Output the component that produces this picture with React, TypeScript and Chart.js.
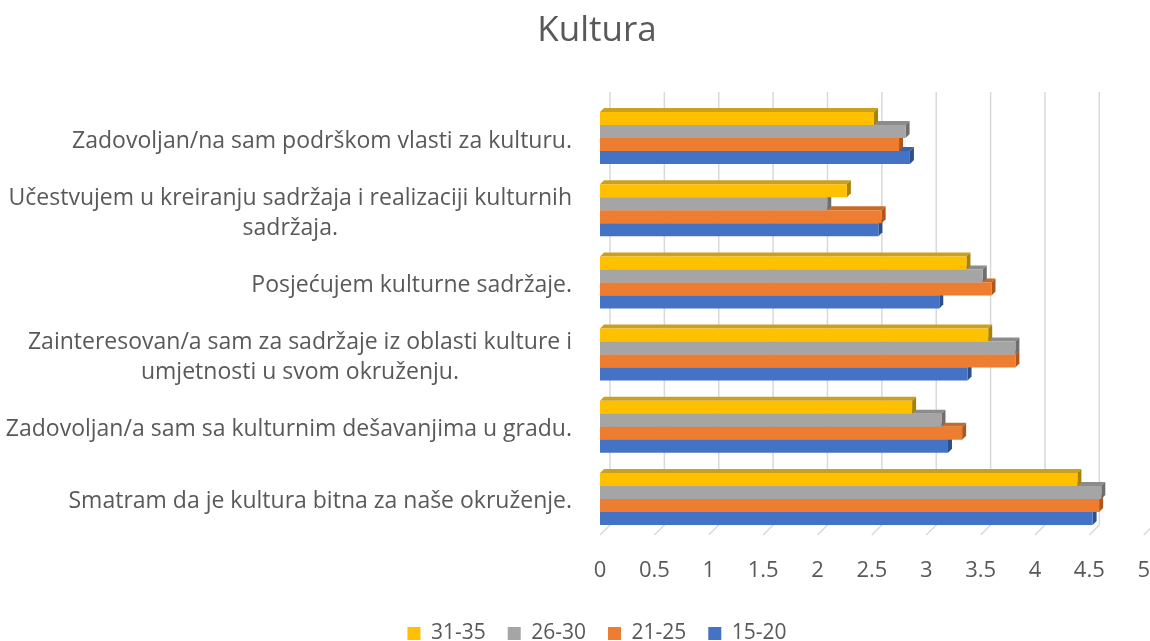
import React, { useEffect, useRef } from "react";
import { Chart, registerables } from "chart.js";

Chart.register(...registerables);

const FONT = "'Open Sans'";
const TEXT_COLOR = "#595959";

const categories: (string | string[])[] = [
  "Zadovoljan/na sam podrškom vlasti za kulturu.",
  ["Učestvujem u kreiranju sadržaja i realizaciji kulturnih", "sadržaja."],
  "Posjećujem kulturne sadržaje.",
  ["Zainteresovan/a sam za sadržaje iz oblasti kulture i", "umjetnosti u svom okruženju."],
  "Zadovoljan/a sam sa kulturnim dešavanjima u gradu.",
  "Smatram da je kultura bitna za naše okruženje.",
];

const seriesNames = ["31-35", "26-30", "21-25", "15-20"];
const values31_35 = [2.52, 2.27, 3.37, 3.57, 2.87, 4.39];
const values26_30 = [2.81, 2.09, 3.52, 3.82, 3.14, 4.61];
const values21_25 = [2.75, 2.59, 3.6, 3.82, 3.33, 4.59];
const values15_20 = [2.85, 2.56, 3.12, 3.38, 3.2, 4.53];

const frontColors = ["#FFC000", "#A5A5A5", "#ED7D31", "#4472C4"];
const topColors = ["#C9A020", "#8C8C8C", "#C86A28", "#3A62A8"];
const sideColors = ["#A88200", "#6E6E6E", "#B0561A", "#2C4F8E"];

const X_MIN = 0;
const X_MAX = 5;
const X_STEP = 0.5;

const WALL_DEPTH = 10;
const BAR_DEPTH = 4;
const LABEL_SIZE = 23;

const wallPlugin = {
  id: "wall3d",
  beforeDatasetsDraw(chart: any) {
    const { ctx, chartArea, scales } = chart;
    const xs = scales.x;
    ctx.save();
    ctx.strokeStyle = "#D9D9D9";
    ctx.lineWidth = 1.5;
    xs.ticks.forEach((t: any) => {
      const px = xs.getPixelForValue(t.value);
      ctx.beginPath();
      ctx.moveTo(px + WALL_DEPTH, chartArea.top - WALL_DEPTH);
      ctx.lineTo(px + WALL_DEPTH, chartArea.bottom - WALL_DEPTH);
      ctx.lineTo(px, chartArea.bottom);
      ctx.stroke();
    });
    ctx.restore();
  },
  beforeDatasetDraw(chart: any, args: any) {
    const { ctx } = chart;
    const i = args.index;
    const meta = chart.getDatasetMeta(i);
    const d = BAR_DEPTH;
    ctx.save();
    meta.data.forEach((bar: any) => {
      const { x, y, base, height } = bar.getProps(["x", "y", "base", "height"], true);
      const top = y - height / 2;
      const bottom = y + height / 2;
      ctx.fillStyle = topColors[i];
      ctx.beginPath();
      ctx.moveTo(base, top);
      ctx.lineTo(base + d, top - d);
      ctx.lineTo(x + d, top - d);
      ctx.lineTo(x, top);
      ctx.closePath();
      ctx.fill();
      ctx.fillStyle = sideColors[i];
      ctx.beginPath();
      ctx.moveTo(x, top);
      ctx.lineTo(x + d, top - d);
      ctx.lineTo(x + d, bottom - d);
      ctx.lineTo(x, bottom);
      ctx.closePath();
      ctx.fill();
    });
    ctx.restore();
  },
  afterDraw(chart: any) {
    const { ctx, chartArea, scales } = chart;
    const ys = scales.y;
    ctx.save();
    ctx.font = `${LABEL_SIZE}px ${FONT}`;
    ctx.fillStyle = TEXT_COLOR;
    ctx.textBaseline = "middle";
    ctx.textAlign = "center";
    const right = chartArea.left - 28;
    const lh = 30;
    categories.forEach((lab, idx) => {
      const lines = Array.isArray(lab) ? lab : [lab];
      const cy = ys.getPixelForValue(idx) + 3;
      const maxW = Math.max(...lines.map((l) => ctx.measureText(l).width));
      const cx = right - maxW / 2;
      lines.forEach((l, j) => {
        ctx.fillText(l, cx, cy + (j - (lines.length - 1) / 2) * lh);
      });
    });
    ctx.restore();
  },
};

export default function App() {
  const ref = useRef<HTMLCanvasElement | null>(null);

  useEffect(() => {
    if (!ref.current) return;
    const seriesValues = [values31_35, values26_30, values21_25, values15_20];
    const chart = new Chart(ref.current, {
      type: "bar",
      data: {
        labels: categories.map((c) => (Array.isArray(c) ? c.join(" ") : c)),
        datasets: seriesNames.map((name, i) => ({
          label: name,
          data: seriesValues[i],
          backgroundColor: frontColors[i],
          borderWidth: 0,
          categoryPercentage: 0.72,
          barPercentage: 1.0,
        })),
      },
      options: {
        indexAxis: "y",
        animation: false,
        responsive: false,
        layout: { padding: { left: 44, right: 0, top: 0, bottom: -13 } },
        plugins: {
          title: {
            display: true,
            text: "Kultura",
            color: TEXT_COLOR,
            font: { family: FONT, size: 35, weight: "normal" },
            padding: { top: 10, bottom: 50 },
          },
          legend: {
            position: "bottom",
            labels: {
              color: TEXT_COLOR,
              font: { family: FONT, size: 21 },
              boxWidth: 13,
              boxHeight: 13,
              padding: 22,
            },
          },
          tooltip: { enabled: false },
        },
        scales: {
          x: {
            min: X_MIN,
            max: X_MAX,
            ticks: {
              stepSize: X_STEP,
              color: TEXT_COLOR,
              font: { family: FONT, size: 22, lineHeight: "72px" },
              padding: 0,
              callback: (v: any) => String(v),
            },
            grid: { display: false, drawTicks: false },
            border: { display: false },
            afterFit: (s: any) => {
              s.height = 66;
            },
          },
          y: {
            ticks: { display: false },
            grid: { display: false, drawTicks: false },
            border: { display: false },
            afterFit: (s: any) => {
              s.width = 556;
            },
          },
        },
      },
      plugins: [wallPlugin],
    });
    return () => chart.destroy();
  }, []);

  return (
    <div style={{ position: "absolute", left: 0, top: 0, width: 1150, height: 641, background: "#fff" }}>
      <canvas ref={ref} width={1150} height={641} style={{ display: "block" }} />
    </div>
  );
}
